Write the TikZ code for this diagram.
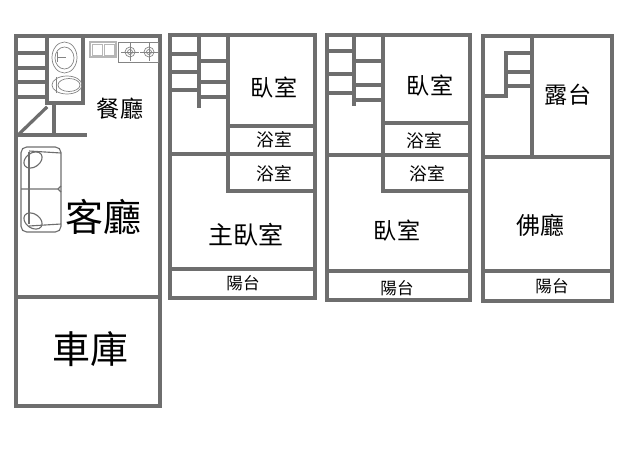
\documentclass[tikz,border=0pt]{standalone}
\usepackage{fontspec}
\setmainfont{Noto Sans CJK TC}
\definecolor{wallgray}{HTML}{6E6E6E}
\tikzset{
    wall/.style={draw=wallgray, line width=2.3pt, line cap=rect},
    fixture/.style={draw=wallgray!85, line width=0.5pt},
    sofaline/.style={draw=wallgray, line width=0.8pt},
    labelbig/.style={font=\fontsize{27}{27}\selectfont, inner sep=0pt},
    labelmid/.style={font=\fontsize{16.4}{16.4}\selectfont, inner sep=0pt},
    labelbath/.style={font=\fontsize{12.6}{12.6}\selectfont, inner sep=0pt},
    labelsmall/.style={font=\fontsize{11.8}{11.8}\selectfont, inner sep=0pt},
}
\begin{document}
\begin{tikzpicture}[x=0.025cm, y=-0.025cm]
    \useasboundingbox (0,0) rectangle (640,461);

    % Ground floor outline
    \draw[wall] (16,36) rectangle (160,406);
    \draw[wall] (16,297) -- (160,297);

    % Ground floor stairs and bathroom
    \draw[wall] (16,53) -- (47,53);
    \draw[wall] (16,68) -- (47,68);
    \draw[wall] (16,82) -- (47,82);
    \draw[wall] (16,97) -- (47,97);
    \draw[wall] (47,36) -- (47,103) -- (83,103) -- (83,36);
    \draw[wall] (54,103) -- (54,135);
    \draw[wall] (16,135) -- (85,135);
    \draw[wall] (18,135) -- (46,108);

    % Wash basin and toilet
    \draw[fixture] (64.5,57.5) ellipse (12.5 and 15.5);
    \draw[fixture] (64.5,58) ellipse (9.5 and 11);
    \draw[fixture] (57,52) -- (57,62);
    \draw[fixture] (57,57) -- (66,57);
    \draw[fixture] (67,85) ellipse (15 and 9);
    \draw[fixture] (69,85) ellipse (11 and 6.5);
    \draw[fixture] (56,77) -- (56,93);

    % Kitchen sink and stove
    \draw[fixture, draw=wallgray!50, line width=0.8pt] (90,42) rectangle (116,57);
    \draw[fixture, draw=wallgray!50] (92,44) rectangle (102,55);
    \draw[fixture, draw=wallgray!50] (104,44) rectangle (114,55);
    \draw[fixture] (118,42) rectangle (158,62);
    \draw[fixture] (130,52) circle (5);
    \draw[fixture] (130,52) circle (2.5);
    \draw[fixture] (130,43) -- (130,61);
    \draw[fixture] (121,52) -- (139,52);
    \draw[fixture] (149,52) circle (5);
    \draw[fixture] (149,52) circle (2.5);
    \draw[fixture] (149,43) -- (149,61);
    \draw[fixture] (140,52) -- (158,52);

    % Sofa
    \draw[sofaline, rounded corners=4pt] (21,147) rectangle (61,232);
    \draw[sofaline] (21,189) -- (58,189) -- (61,192);
    \draw[sofaline] (58,189) -- (61,186);
    \draw[sofaline] (29,152) -- (29,224);
    \draw[sofaline] (29,151) -- (61,153);
    \draw[sofaline] (29,226) -- (61,224);
    \draw[sofaline, rotate around={35:(33,160)}] (33,160) ellipse (10 and 7);
    \draw[sofaline, rotate around={-35:(33,221)}] (33,221) ellipse (10 and 7);

    % Ground floor labels
    \node[labelmid] (diningroom) at (120,109) {餐廳};
    \node[labelbig] (livingroom) at (103,217) {客廳};
    \node[labelbig] (garage) at (90.5,349) {車庫};

    % Second floor
    \draw[wall] (170,35) rectangle (315,298);
    \draw[wall] (170,154) -- (315,154);
    \draw[wall] (170,269) -- (315,269);
    \draw[wall] (228,35) -- (228,191) -- (315,191);
    \draw[wall] (228,126) -- (315,126);
    \draw[wall] (199,35) -- (199,106);
    \draw[wall] (170,54) -- (199,54);
    \draw[wall] (170,72) -- (199,72);
    \draw[wall] (170,90) -- (199,90);
    \draw[wall] (199,61) -- (228,61);
    \draw[wall] (199,82) -- (228,82);
    \draw[wall] (199,97) -- (228,97);
    \node[labelmid] (bedroomB) at (274,88) {臥室};
    \node[labelbath] (bathB) at (274,140) {浴室};
    \node[labelbath] (bathC) at (274,174) {浴室};
    \node[font=\fontsize{17.8}{17.8}\selectfont, inner sep=0pt] (masterroom) at (246,235) {主臥室};
    \node[labelsmall] (balconyB) at (243,283) {陽台};

    % Third floor
    \draw[wall] (327,35) rectangle (470,300);
    \draw[wall] (327,155) -- (470,155);
    \draw[wall] (327,271) -- (470,271);
    \draw[wall] (383,35) -- (383,191) -- (470,191);
    \draw[wall] (383,123) -- (470,123);
    \draw[wall] (354,35) -- (354,104);
    \draw[wall] (327,51) -- (354,51);
    \draw[wall] (327,74) -- (354,74);
    \draw[wall] (327,93) -- (354,93);
    \draw[wall] (354,61) -- (383,61);
    \draw[wall] (354,85) -- (383,85);
    \draw[wall] (354,100) -- (383,100);
    \node[labelmid] (bedroomC) at (430,86) {臥室};
    \node[labelbath] (bathD) at (424,141) {浴室};
    \node[labelbath] (bathE) at (427,174) {浴室};
    \node[labelmid] (bedroomD) at (397,231) {臥室};
    \node[labelsmall] (balconyC) at (397,288) {陽台};

    % Roof floor
    \draw[wall] (483,36) rectangle (612,301);
    \draw[wall] (483,157) -- (612,157);
    \draw[wall] (483,271) -- (612,271);
    \draw[wall] (532,36) -- (532,157);
    \draw[wall] (483,96) -- (506,96) -- (506,53) -- (532,53);
    \draw[wall] (506,72) -- (532,72);
    \draw[wall] (506,86) -- (532,86);
    \node[labelmid] (terrace) at (568,95) {露台};
    \node[font=\fontsize{17}{17}\selectfont, inner sep=0pt] (shrine) at (540,225) {佛廳};
    \node[labelsmall] (balconyD) at (552,286) {陽台};
\end{tikzpicture}
\end{document}
